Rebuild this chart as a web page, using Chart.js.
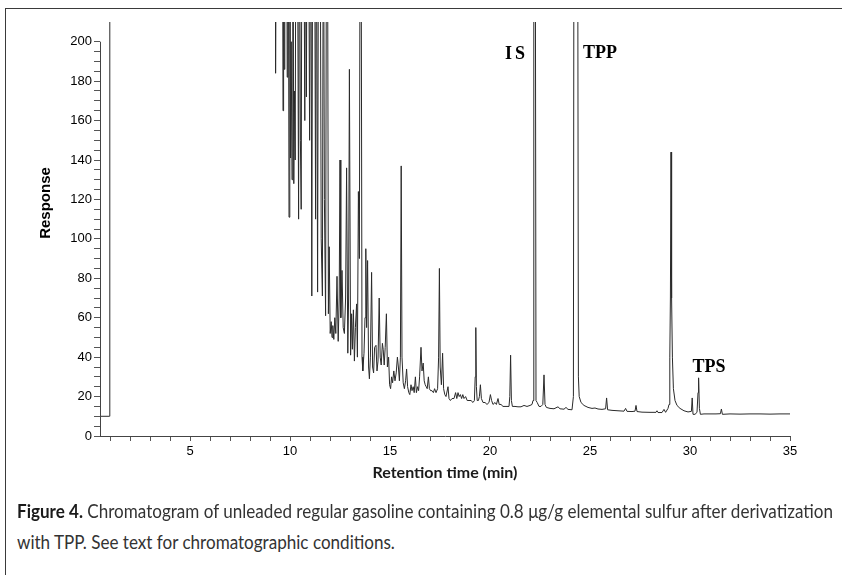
<!DOCTYPE html>
<html>
<head>
<meta charset="utf-8">
<script src="https://cdn.jsdelivr.net/npm/chart.js@4.4.1/dist/chart.umd.min.js"></script>
<style>
  html, body { margin: 0; padding: 0; background: #fff; }
  body { width: 842px; height: 575px; position: relative; overflow: hidden; }
  #frame { position: absolute; left: 5px; top: 8px; width: 900px; height: 700px;
           border-left: 1.5px solid #3a3a3a; border-top: 1.5px solid #3a3a3a; }
  #chart { position: absolute; left: 0; top: 0; }
  .caption { position: absolute; left: 17px; white-space: nowrap; transform-origin: 0 0;
             font-family: Lato, "Open Sans", sans-serif;
             font-size: 19.5px; color: #333; }
  .caption b { color: #1a1a1a; }
</style>
</head>
<body>
<div id="frame"></div>
<canvas id="chart" width="842" height="500"></canvas>
<div class="caption" id="cap1" style="top:499px"><b>Figure 4.</b> Chromatogram of unleaded regular gasoline containing 0.8 μg/g elemental sulfur after derivatization</div>
<div class="caption" id="cap2" style="top:530px">with TPP. See text for chromatographic conditions.</div>
<script>
// retention time (min), response; 300/400 = off scale
const solventFront = [[0.5,10],[0.97,10],[0.99,400],[9.24,400]];

const cluster9to12 = [
  [9.28,184],[9.33,300],[9.62,300],[9.65,165],[9.68,300],[9.71,186],[9.74,300],
  [9.83,300],[9.86,182],[9.89,300],[9.92,260],[9.95,111],[9.99,300],
  [10.03,141],[10.06,200],[10.10,130],[10.14,300],[10.19,128],[10.22,175],[10.26,140],[10.30,300],
  [10.36,300],[10.43,110],[10.47,300],[10.52,150],[10.56,115],[10.60,300],
  [10.68,300],[10.74,160],[10.78,300],[10.82,172],[10.86,300],[10.92,300],[10.98,150],[11.04,300],
  [11.09,71],[11.14,300],[11.22,300],[11.28,110],[11.32,300],[11.38,73],[11.43,300],
  [11.50,300],[11.56,100],[11.62,71],[11.67,300],[11.72,120],[11.78,61],[11.83,300],[11.87,300],
  [11.92,62],[11.96,96],[12.01,52]
];

const cluster12to15 = [
  [12.06,58],[12.10,50],[12.14,56],[12.19,49],[12.24,60],[12.29,52],[12.35,81],[12.41,48],
  [12.46,70],[12.50,140],[12.54,60],[12.60,84],[12.66,55],[12.72,52],[12.78,70],[12.83,136],
  [12.89,42],[12.93,70],[12.97,186],[13.03,41],[13.08,62],[13.12,44],[13.17,64],[13.22,38],
  [13.27,55],[13.33,67],[13.37,40],[13.42,124],[13.47,90],[13.51,300],[13.55,300],[13.60,40],
  [13.64,33],[13.70,42],[13.75,60],[13.79,95],[13.83,55],[13.88,89],[13.93,35],[13.97,29],
  [14.02,40],[14.08,83],[14.13,35],[14.18,32],[14.23,45],[14.30,46],[14.35,33],[14.40,38],
  [14.46,70],[14.51,40],[14.56,36],[14.62,47],[14.66,44],[14.71,36],[14.76,45],[14.82,62],
  [14.87,35],[14.93,40],[14.98,26]
];

const cluster15to19 = [
  [15.03,24],[15.08,30],[15.13,27],[15.19,33],[15.25,28],[15.31,32],[15.37,40],[15.42,35],
  [15.47,28],[15.52,40],[15.56,137],[15.60,40],[15.66,27],[15.72,24],[15.78,28],[15.83,34],
  [15.88,25],[15.94,22],[15.99,21],[16.05,26],[16.10,23],[16.16,25],[16.21,22],[16.27,30],
  [16.32,22],[16.38,25],[16.43,23],[16.48,30],[16.55,45],[16.60,33],[16.66,37],[16.71,28],
  [16.76,26],[16.81,25],[16.86,24],[16.92,30],[16.97,24],[17.03,23],[17.10,23],[17.17,22],
  [17.23,24],[17.30,22],[17.38,24],[17.43,40],[17.47,85],[17.51,35],[17.57,26],[17.63,42],
  [17.68,24],[17.74,21],[17.80,20],[17.90,25],[17.95,19],[18.02,18],[18.10,19],[18.20,19],
  [18.28,22],[18.34,19],[18.40,22],[18.46,20],[18.52,21],[18.58,19],[18.64,21],[18.70,19],
  [18.78,20],[18.86,18],[18.95,18]
];

const tail19to24 = [
  [19.05,18],[19.15,17],[19.22,18],[19.26,30],[19.29,55],[19.32,25],[19.36,18],[19.42,18],
  [19.47,20],[19.52,26],[19.57,19],[19.65,17],[19.75,17],[19.85,16],[19.95,17],[20.02,21],
  [20.08,18],[20.15,16],[20.25,17],[20.32,16],[20.40,19],[20.46,16],[20.55,16],[20.65,15],
  [20.75,15],[20.85,15],[20.95,15],[20.99,20],[21.03,41],[21.07,18],[21.12,15],[21.25,15],
  [21.40,14.8],[21.55,14.8],[21.70,15.5],[21.85,15],[22.00,15.5],[22.10,16],[22.15,18],
  [22.19,300],[22.26,300],[22.30,18],[22.36,17],[22.45,15],[22.55,15],[22.64,16],[22.70,31],
  [22.75,16],[22.82,14.5],[23.0,14],[23.2,13.8],[23.4,14.8],[23.5,13.8],[23.7,13.6],
  [23.8,14.5],[23.9,13.5],[24.1,13.3]
];

const tail24to35 = [
  [24.17,20],[24.20,300],[24.38,300],[24.42,30],[24.46,20],[24.55,17],[24.7,15.5],[24.9,14.5],
  [25.1,14],[25.25,14.2],[25.4,13.7],[25.6,13.5],[25.78,13.8],[25.83,19.3],[25.88,13.3],
  [26.1,13],[26.4,12.8],[26.7,12.6],[26.78,14],[26.85,12.5],[27.1,12.4],[27.25,12.6],
  [27.30,15.5],[27.35,12.4],[27.6,12.1],[28.0,12],[28.3,12],[28.35,12.8],[28.4,11.9],
  [28.6,11.9],[28.7,13.5],[28.78,12],[28.9,14],[28.95,16],[28.99,40],[29.02,70],[29.05,144],
  [29.08,70],[29.12,40],[29.17,24],[29.25,18],[29.35,15.5],[29.5,14],[29.7,12.8],[29.9,12.2],
  [30.07,12.5],[30.11,19.3],[30.15,11],[30.25,11],[30.35,12],[30.40,22],[30.43,29.5],
  [30.47,14],[30.52,11],[30.7,11.2],[31.0,11.2],[31.3,11.2],[31.52,11.3],[31.57,13.7],
  [31.62,11],[32,11.2],[32.5,11.1],[33,11.2],[33.5,11.2],[34,11.1],[34.5,11.2],[35,11.2]
];

const peakNames = ['IS', 'TPP', 'TPS'];
const peakNameRt = [21.33, 25.5, 30.95];
const peakNameResp = [191, 191.5, 32.6];

const xMajorTicks = [5, 10, 15, 20, 25, 30, 35];
const yMajorTicks = [0, 20, 40, 60, 80, 100, 120, 140, 160, 180, 200];

const trace = [].concat(solventFront, cluster9to12, cluster12to15, cluster15to19, tail19to24, tail24to35)
  .map(p => ({ x: p[0], y: p[1] }));

const decor = {
  id: 'decor',
  afterDraw(chart) {
    const { ctx, chartArea, scales: { x, y } } = chart;
    ctx.save();
    // y axis line only runs 0..200
    ctx.strokeStyle = '#444';
    ctx.lineWidth = 1;
    ctx.beginPath();
    const ax = Math.round(chartArea.left) + 0.5;
    ctx.moveTo(ax, y.getPixelForValue(200));
    ctx.lineTo(ax, y.getPixelForValue(0));
    ctx.stroke();

    ctx.fillStyle = '#000';
    ctx.font = 'bold 18px "Liberation Serif", "Times New Roman", serif';
    ctx.textAlign = 'center';
    ctx.textBaseline = 'alphabetic';
    peakNames.forEach((n, i) => {
      ctx.letterSpacing = n === 'IS' ? '3px' : '0px';
      ctx.fillText(n, x.getPixelForValue(peakNameRt[i]), y.getPixelForValue(peakNameResp[i]));
    });
    ctx.letterSpacing = '0px';

    ctx.translate(46, 203);
    ctx.rotate(-Math.PI / 2);
    ctx.font = 'bold 15px "Liberation Sans", Arial, sans-serif';
    ctx.textBaseline = 'middle';
    ctx.fillText('Response', 0, 0);
    ctx.restore();
  }
};

new Chart(document.getElementById('chart').getContext('2d'), {
  type: 'line',
  plugins: [decor],
  data: {
    datasets: [{
      data: trace,
      borderColor: '#2a2a2a',
      borderWidth: 1,
      pointRadius: 0,
      tension: 0,
      fill: false
    }]
  },
  options: {
    responsive: false,
    animation: false,
    devicePixelRatio: 1,
    layout: { padding: { top: 22, right: 52, bottom: 0, left: 0 } },
    plugins: { legend: { display: false }, tooltip: { enabled: false } },
    scales: {
      x: {
        type: 'linear',
        min: 0.5,
        max: 35,
        afterFit(scale) { scale.height = 64; },
        afterBuildTicks(scale) {
          const t = [];
          for (let v = 1; v <= 35; v++) t.push({ value: v });
          scale.ticks = t;
        },
        grid: { drawOnChartArea: false, drawTicks: true, tickLength: 5, color: '#555' },
        border: { display: true, color: '#444', width: 1 },
        ticks: {
          autoSkip: false,
          maxRotation: 0,
          padding: 3,
          color: '#000',
          font: { family: 'Arial, "Liberation Sans", sans-serif', size: 13 },
          callback: v => xMajorTicks.includes(v) ? String(v) : ''
        },
        title: {
          display: true,
          text: 'Retention time (min)',
          color: '#1a1a1a',
          font: { family: 'Lato, "Open Sans", sans-serif', size: 16, weight: 'bold' },
          padding: { top: 0, bottom: 18 }
        }
      },
      y: {
        min: 0,
        max: 210,
        afterFit(scale) { scale.width = 100; },
        afterBuildTicks(scale) {
          const t = [];
          for (let v = 0; v <= 200; v += 5) t.push({ value: v });
          scale.ticks = t;
        },
        grid: { drawOnChartArea: false, drawTicks: true, tickLength: 6, color: '#555' },
        border: { display: false },
        ticks: {
          autoSkip: false,
          padding: 2,
          color: '#000',
          font: { family: 'Arial, "Liberation Sans", sans-serif', size: 13 },
          callback: v => yMajorTicks.includes(v) ? String(v) : ''
        }
      }
    }
  }
});

// fit caption lines to the printed width
const cap1 = document.getElementById('cap1');
const cap2 = document.getElementById('cap2');
const s = 816 / cap1.getBoundingClientRect().width;
cap1.style.transform = 'scaleX(' + s + ')';
cap2.style.transform = 'scaleX(' + s + ')';
</script>
</body>
</html>
